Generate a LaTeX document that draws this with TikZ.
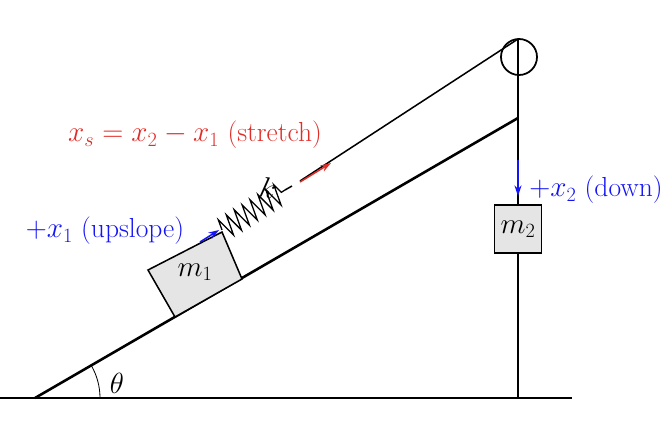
\documentclass[tikz,border=0pt]{standalone}
\usetikzlibrary{decorations.pathmorphing,arrows.meta}
\definecolor{myred}{RGB}{225,45,40}
\definecolor{myblue}{RGB}{20,20,245}
\begin{document}
\begin{tikzpicture}[x=0.03cm,y=-0.03cm,line width=1.3pt,
  blk/.style={draw,fill=black!10,line width=1.3pt},
  lbl/.style={font=\fontsize{23.5}{27}\selectfont},
  arr/.style={-{Stealth[length=9pt,width=6pt]},line width=1.3pt}]
\useasboundingbox (0,0) rectangle (672,436);
\coordinate (A) at (35,398);
\coordinate (T) at (518,118);
\coordinate (G1) at (0,398);
\coordinate (G2) at (572,398);
\coordinate (B) at (518,398);
\coordinate (P) at (519,57);
\coordinate (Ptop) at (518,39);
\draw (G1) -- (G2);
\draw[line width=2.2pt] (A) -- (T);
\draw[line width=1.8pt] (Ptop) -- (B);
\draw[line width=1.5pt] (P) circle (18);
\draw[line width=0.7pt] (100,398) arc[start angle=0,end angle=-30,radius=65];
\node[lbl] (th) at (117,383) {$\theta$};
% block m1
\draw[blk] (175,317) -- (242,279) -- (222,232) -- (148,270) -- cycle;
\node[lbl] (m1) at (195,272) {$m_1$};
% spring
\coordinate (s0) at (222,230);
\coordinate (s1) at (285,190);
\coordinate (s2) at (292,186);
\coordinate (s3) at (300,181);
\draw[line width=1.1pt,decoration={zigzag,segment length=8pt,amplitude=9pt},decorate] (s0) -- (s1);
\draw (s1) -- (s2);
\node[rotate=-10,lbl] (k) at (268,188) {$k$};
\draw (s3) -- (Ptop);
% m2
\node[blk,minimum width=47*0.03cm,minimum height=48*0.03cm,inner sep=0pt] (m2) at (518,229) {};
\node[lbl] at (m2) {$m_2$};
% arrows and labels
\draw[arr,myred] (300,182) -- (331,163);
\node[lbl,myred] (xs) at (195,135) {$x_s=x_2-x_1$ (stretch)};
\draw[arr,myblue] (200,242) -- (219,230);
\node[lbl,myblue] (x1) at (105,231) {$+x_1$ (upslope)};
\draw[arr,myblue] (518,160) -- (518,196);
\node[lbl,myblue] (x2) at (596,190) {$+x_2$ (down)};
\end{tikzpicture}
\end{document}
